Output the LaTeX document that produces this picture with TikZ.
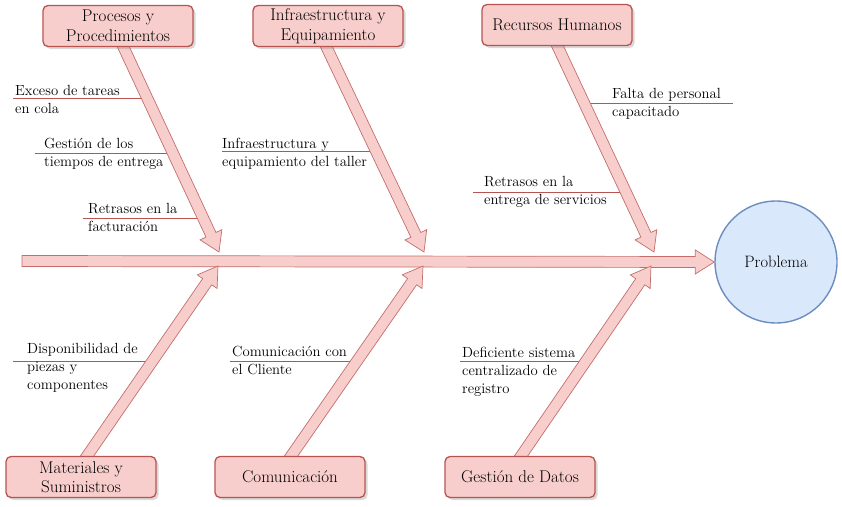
\documentclass[tikz,border=0pt]{standalone}
\usetikzlibrary{calc,shadows}
\definecolor{pinkf}{HTML}{F8CECC}
\definecolor{redd}{HTML}{B85450}
\definecolor{bluef}{HTML}{DAE8FC}
\definecolor{blued}{HTML}{6C8EBF}
\newcommand\fishbone[2]{%
  \draw[rib] let \p1=($(#2)-(#1)$), \n1={atan2(\y1,\x1)}, \n2={veclen(\x1,\y1)}, \n3={\n2-19pt} in
   [shift={(#1)}, rotate=\n1] (0pt,-5.5pt) -- (\n3,-5.5pt) -- (\n3,-12pt) -- (\n2,0pt)
   -- (\n3,12pt) -- (\n3,5.5pt) -- (0pt,5.5pt) -- cycle;}
\tikzset{
  rib/.style={fill=pinkf, draw=redd!85, line width=0.7pt, line join=miter},
  catbox/.style={rectangle, rounded corners=5pt, fill=pinkf, draw=redd, line width=1.3pt,
    minimum width=150pt, minimum height=41pt, align=center, inner sep=1pt,
    font=\fontsize{17}{19.5}\selectfont,
    drop shadow={shadow xshift=2.5pt, shadow yshift=-2.5pt, opacity=0.3}},
  causetext/.style={anchor=north west, inner sep=0pt, align=left,
    font=\fontsize{14.7}{18}\selectfont},
  causeline/.style={draw=redd, line width=0.8pt},
  probnode/.style={circle, fill=bluef, draw=blued, line width=1.4pt, minimum size=122pt,
    font=\fontsize{16.5}{20}\selectfont}
}
\begin{document}
\begin{tikzpicture}[x=1pt, y=-1pt]
\useasboundingbox (0,0) rectangle (842,506);
% problem
\node[probnode] (prob) at (776,262) {Problema};
% coordinates
\coordinate (sL) at (22,261);
\coordinate (r1) at (122,44);  \coordinate (t1) at (219,252);
\coordinate (r2) at (325,44);  \coordinate (t2) at (424,252);
\coordinate (r3) at (556,43);  \coordinate (t3) at (654,252);
\coordinate (r4) at (85,459);  \coordinate (t4) at (218,266);
\coordinate (r5) at (289,459); \coordinate (t5) at (423,266);
\coordinate (r6) at (519,459); \coordinate (t6) at (651,266);
% cause underlines
\draw[causeline] (13,98.5) -- (146,98.5);
\draw[causeline] (35,153) -- (171,153);
\draw[causeline] (83,218) -- (202,218);
\draw[causeline] (222,151) -- (375,151);
\draw[causeline] (583,103) -- (733,103);
\draw[causeline] (473,192) -- (624,192);
\draw[causeline] (13,361) -- (151,361);
\draw[causeline] (230,361) -- (355,361);
\draw[causeline] (460,361) -- (584,361);
% ribs and spine
\fishbone{sL}{prob.west}
\fishbone{r1}{t1}
\fishbone{r2}{t2}
\fishbone{r3}{t3}
\fishbone{r4}{t4}
\fishbone{r5}{t5}
\fishbone{r6}{t6}
% category boxes
\node[catbox] (b1) at (118,26) {Procesos y\\Procedimientos};
\node[catbox] (b2) at (328,26) {Infraestructura y\\Equipamiento};
\node[catbox] (b3) at (557,25) {Recursos Humanos};
\node[catbox] (b4) at (81,477) {Materiales y\\Suministros};
\node[catbox] (b5) at (290,477) {Comunicación};
\node[catbox] (b6) at (520,477) {Gestión de Datos};
% cause texts
\node[causetext] (l1) at (15,85) {Exceso de tareas\\en cola};
\node[causetext] (l2) at (44,138) {Gestión de los\\tiempos de entrega};
\node[causetext] (l3) at (88,203) {Retrasos en la\\facturación};
\node[causetext] (l4) at (222,138) {Infraestructura y\\equipamiento del taller};
\node[causetext] (l5) at (612,88) {Falta de personal\\capacitado};
\node[causetext] (l6) at (484,176) {Retrasos en la\\entrega de servicios};
\node[causetext] (l7) at (27,343) {Disponibilidad de\\piezas y\\componentes};
\node[causetext] (l8) at (232,346) {Comunicación con\\el Cliente};
\node[causetext] (l9) at (462,347) {Deficiente sistema\\centralizado de\\registro};
\end{tikzpicture}
\end{document}
